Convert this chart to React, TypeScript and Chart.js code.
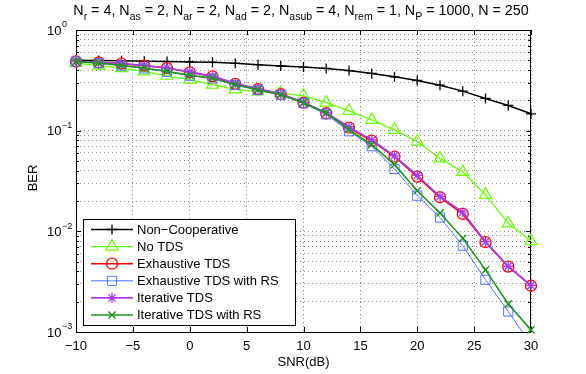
import React, { useEffect, useRef } from "react";
import { Chart, registerables } from "chart.js";
import { drawPoint } from "chart.js/helpers";

Chart.register(...registerables);

const FONT = '"Liberation Sans", Arial, Helvetica, sans-serif';

// ---- data ----
const snr = [-10, -8, -6, -4, -2, 0, 2, 4, 6, 8, 10, 12, 14, 16, 18, 20, 22, 24, 26, 28, 30];
const nonCooperative = [0.5, 0.498, 0.495, 0.49, 0.486, 0.482, 0.477, 0.467, 0.452, 0.439, 0.428, 0.415, 0.395, 0.37, 0.343, 0.315, 0.283, 0.247, 0.209, 0.178, 0.147];
const noTds = [0.47, 0.442, 0.419, 0.388, 0.351, 0.321, 0.286, 0.257, 0.245, 0.236, 0.222, 0.19, 0.157, 0.128, 0.102, 0.078, 0.053, 0.039, 0.023, 0.012, 0.008];
const exhaustiveTds = [0.488, 0.476, 0.463, 0.442, 0.419, 0.38, 0.346, 0.292, 0.259, 0.231, 0.19, 0.149, 0.107, 0.0795, 0.0551, 0.0349, 0.0218, 0.0149, 0.0078, 0.00446, 0.00288];
const exhaustiveTdsRs = [0.485, 0.468, 0.443, 0.415, 0.385, 0.352, 0.33, 0.284, 0.253, 0.226, 0.188, 0.145, 0.0986, 0.07, 0.0417, 0.0226, 0.0137, 0.0072, 0.0033, 0.0016, 0.00075];
const iterativeTds = [0.49, 0.478, 0.465, 0.445, 0.42, 0.384, 0.348, 0.295, 0.26, 0.232, 0.191, 0.151, 0.109, 0.081, 0.0563, 0.036, 0.0222, 0.0155, 0.0079, 0.0045, 0.0029];
const iterativeTdsRs = [0.485, 0.47, 0.445, 0.419, 0.388, 0.355, 0.333, 0.286, 0.255, 0.227, 0.188, 0.15, 0.1026, 0.0727, 0.046, 0.0253, 0.0152, 0.00855, 0.00414, 0.0019, 0.00105];

const seriesLabels = [
  "Non\u2212Cooperative",
  "No TDS",
  "Exhaustive TDS",
  "Exhaustive TDS with RS",
  "Iterative TDS",
  "Iterative TDS with RS",
];
const seriesValues = [nonCooperative, noTds, exhaustiveTds, exhaustiveTdsRs, iterativeTds, iterativeTdsRs];

const xTicks = [-10, -5, 0, 5, 10, 15, 20, 25, 30];
const yDecades = [-3, -2, -1, 0];
const yMinorMultipliers = [2, 3, 4, 5, 6, 7, 8, 9];

const titleSegments: [string, string, string][] = [
  ["N", "r", " = 4, "],
  ["N", "as", " = 2, "],
  ["N", "ar", " = 2, "],
  ["N", "ad", " = 2, "],
  ["N", "asub", " = 4, "],
  ["N", "rem", " = 1, "],
  ["N", "P", " = 1000, "],
  ["N", "", " = 250"],
];
const xAxisTitle = "SNR(dB)";
const yAxisTitle = "BER";

// ---- styles ----
const styles = [
  { color: "#000000", point: "cross", radius: 5, width: 1.5, pbw: 1.3 },
  { color: "#66FF00", point: "triangle", radius: 7, width: 1.3, pbw: 1.2 },
  { color: "#FF0000", point: "circle", radius: 5.5, width: 1.6, pbw: 1.3 },
  { color: "#4D73FF", point: "rect", radius: 6.5, width: 1, pbw: 1 },
  { color: "#A83CF5", point: "star", radius: 5, width: 1.6, pbw: 1.3 },
  { color: "#1E961E", point: "crossRot", radius: 5, width: 1.6, pbw: 1.4 },
];

const frameTicksPlugin = {
  id: "frameTicks",
  beforeDatasetsDraw(chart: any) {
    const ctx = chart.ctx;
    const { left, right, top, bottom } = chart.chartArea;
    const xs = chart.scales.x;
    const ys = chart.scales.y;
    ctx.save();
    ctx.strokeStyle = "#000";
    ctx.lineWidth = 1;
    ctx.beginPath();
    for (const t of xTicks) {
      const px = Math.round(xs.getPixelForValue(t)) + 0.5;
      ctx.moveTo(px, bottom);
      ctx.lineTo(px, bottom - 5);
      ctx.moveTo(px, top);
      ctx.lineTo(px, top + 5);
    }
    for (const d of yDecades) {
      const py = Math.round(ys.getPixelForValue(Math.pow(10, d))) + 0.5;
      ctx.moveTo(left, py);
      ctx.lineTo(left + 5, py);
      ctx.moveTo(right, py);
      ctx.lineTo(right - 5, py);
      if (d < 0) {
        for (const m of yMinorMultipliers) {
          const pm = Math.round(ys.getPixelForValue(m * Math.pow(10, d))) + 0.5;
          ctx.moveTo(left, pm);
          ctx.lineTo(left + 3, pm);
          ctx.moveTo(right, pm);
          ctx.lineTo(right - 3, pm);
        }
      }
    }
    ctx.stroke();
    ctx.strokeRect(Math.round(left) + 0.5, Math.round(top) + 0.5, Math.round(right - left) - 1, Math.round(bottom - top));
    ctx.restore();
  },
  afterDraw(chart: any) {
    const ctx = chart.ctx;
    const { left, right } = chart.chartArea;
    const ys = chart.scales.y;
    ctx.save();
    ctx.fillStyle = "#000";

    // y tick labels 10^n
    for (const d of yDecades) {
      const py = ys.getPixelForValue(Math.pow(10, d));
      ctx.font = `13px ${FONT}`;
      ctx.textAlign = "left";
      ctx.textBaseline = "middle";
      ctx.fillText("10", 47, py + 1);
      const w = ctx.measureText("10").width;
      ctx.font = `9px ${FONT}`;
      ctx.fillText(d === 0 ? "0" : "\u2212" + Math.abs(d), 47 + w + 0.5, py - 5);
    }

    // axis titles
    ctx.font = `13px ${FONT}`;
    ctx.textAlign = "center";
    ctx.textBaseline = "middle";
    ctx.fillText(xAxisTitle, (left + right) / 2, 362);
    ctx.save();
    ctx.translate(33, 178);
    ctx.rotate(-Math.PI / 2);
    ctx.fillText(yAxisTitle, 0, 0);
    ctx.restore();

    // title with subscripts
    const baseFont = `14.3px ${FONT}`;
    const subFont = `10.5px ${FONT}`;
    let total = 0;
    for (const [b, s, r] of titleSegments) {
      ctx.font = baseFont;
      total += ctx.measureText(b).width + ctx.measureText(r).width;
      ctx.font = subFont;
      total += ctx.measureText(s).width;
    }
    let x = 301 - total / 2;
    ctx.textAlign = "left";
    ctx.textBaseline = "alphabetic";
    for (const [b, s, r] of titleSegments) {
      ctx.font = baseFont;
      ctx.fillText(b, x, 14.5);
      x += ctx.measureText(b).width;
      ctx.font = subFont;
      ctx.fillText(s, x, 20);
      x += ctx.measureText(s).width;
      ctx.font = baseFont;
      ctx.fillText(r, x, 14.5);
      x += ctx.measureText(r).width;
    }

    // legend
    const bx = 83.5, by = 219.5, bw = 212, bh = 106;
    ctx.fillStyle = "#fff";
    ctx.fillRect(bx, by, bw, bh);
    ctx.strokeStyle = "#000";
    ctx.lineWidth = 1;
    ctx.strokeRect(bx, by, bw, bh);
    seriesLabels.forEach((label, i) => {
      const st = styles[i];
      const y = 229.5 + i * 17.1;
      ctx.strokeStyle = st.color;
      ctx.lineWidth = st.width;
      ctx.beginPath();
      ctx.moveTo(91, y);
      ctx.lineTo(133, y);
      ctx.stroke();
      ctx.lineWidth = st.pbw;
      ctx.fillStyle = "rgba(0,0,0,0)";
      drawPoint(ctx, { pointStyle: st.point, radius: st.radius, rotation: 0, borderWidth: st.pbw } as any, 112, y);
      ctx.fillStyle = "#000";
      ctx.font = `13px ${FONT}`;
      ctx.textAlign = "left";
      ctx.textBaseline = "middle";
      ctx.fillText(label, 137, y + 0.5);
    });
    ctx.restore();
  },
};

export default function App() {
  const ref = useRef<HTMLCanvasElement | null>(null);
  useEffect(() => {
    if (!ref.current) return;
    const n = seriesValues.length;
    const chart = new Chart(ref.current, {
      type: "line",
      data: {
        datasets: seriesValues.map((vals, i) => ({
          label: seriesLabels[i],
          data: snr.map((s, j) => ({ x: s, y: vals[j] })),
          borderColor: styles[i].color,
          backgroundColor: "rgba(0,0,0,0)",
          borderWidth: styles[i].width,
          pointStyle: styles[i].point as any,
          pointRadius: styles[i].radius,
          pointBorderWidth: styles[i].pbw,
          pointBorderColor: styles[i].color,
          pointBackgroundColor: "rgba(0,0,0,0)",
          tension: 0,
          fill: false,
          order: n - i,
          clip: { left: 12, right: 12, top: 12, bottom: i === 3 ? 0 : 12 } as any,
        })),
      },
      options: {
        responsive: false,
        animation: false,
        devicePixelRatio: 1,
        layout: { padding: { top: 30, right: 55, left: 0, bottom: 0 } },
        plugins: { legend: { display: false }, tooltip: { enabled: false }, title: { display: false } },
        events: [],
        scales: {
          x: {
            type: "linear",
            min: -10,
            max: 30,
            afterBuildTicks: (scale: any) => {
              scale.ticks = xTicks.map((v) => ({ value: v }));
            },
            afterFit: (scale: any) => {
              scale.height = 42;
            },
            ticks: {
              color: "#000",
              font: { family: FONT, size: 13 },
              padding: 7,
              maxRotation: 0,
              autoSkip: false,
              callback: (v: any) => String(v).replace("-", "\u2212"),
            },
            grid: { color: "#8c8c8c", lineWidth: 1, drawTicks: false },
            border: { display: false, dash: [1, 3] },
          },
          y: {
            type: "logarithmic",
            min: 0.001,
            max: 1,
            afterBuildTicks: (scale: any) => {
              const t: any[] = [];
              for (const d of yDecades) {
                t.push({ value: Math.pow(10, d), major: true });
                if (d < 0) for (const m of yMinorMultipliers) t.push({ value: m * Math.pow(10, d) });
              }
              scale.ticks = t;
            },
            afterFit: (scale: any) => {
              scale.width = 76;
            },
            ticks: { display: false },
            grid: { color: "#8c8c8c", lineWidth: 1, drawTicks: false },
            border: { display: false, dash: [1, 3] },
          },
        },
      },
      plugins: [frameTicksPlugin],
    } as any);
    return () => chart.destroy();
  }, []);
  return (
    <div style={{ position: "fixed", left: 0, top: 0, width: 586, height: 374, background: "#fff" }}>
      <canvas ref={ref} width={586} height={374} style={{ display: "block" }} />
    </div>
  );
}
